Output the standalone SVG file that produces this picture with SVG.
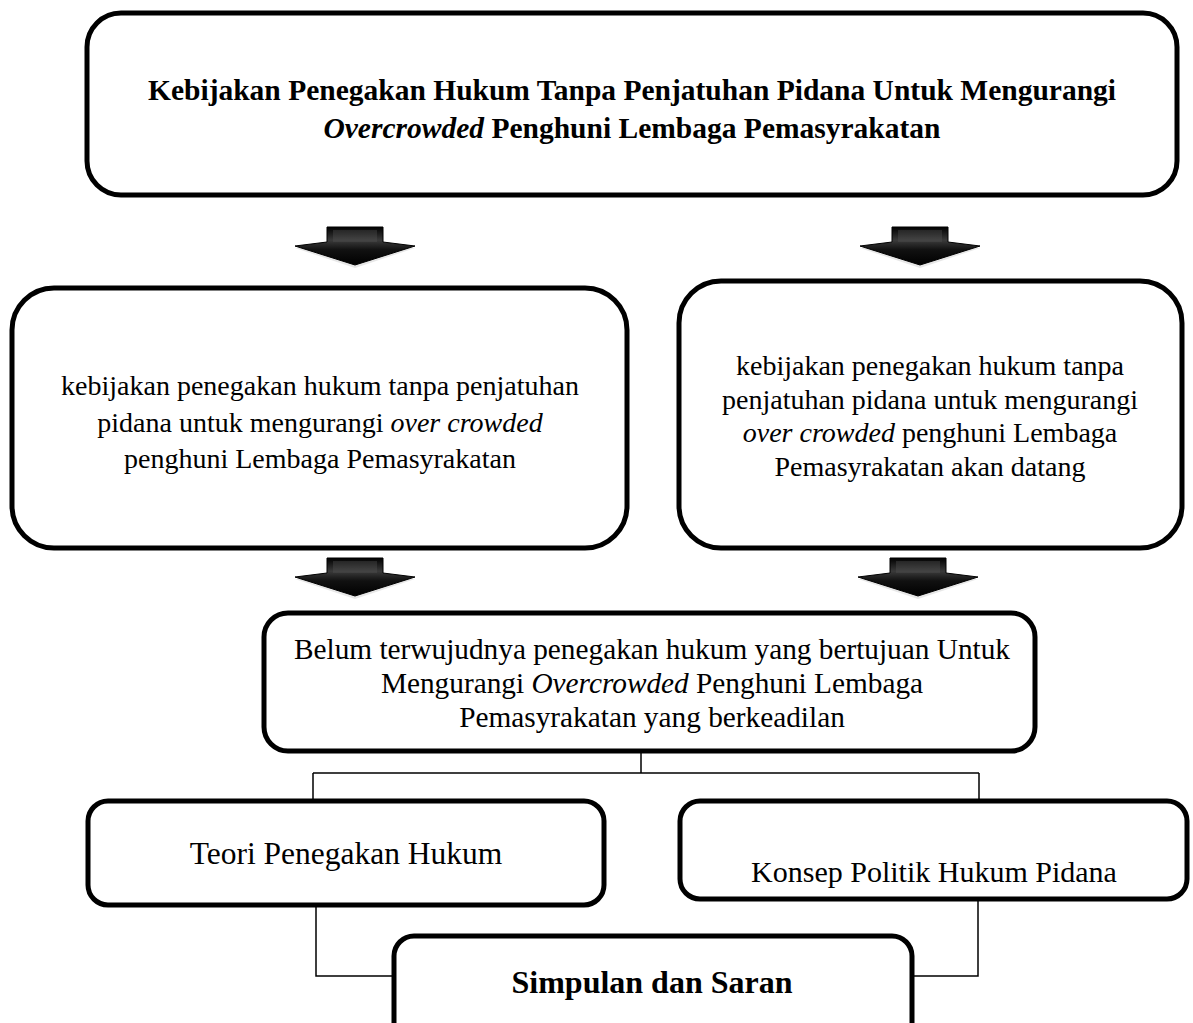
<svg xmlns="http://www.w3.org/2000/svg" width="1193" height="1023" viewBox="0 0 1193 1023">
<style>
.box{fill:#fff;stroke:#000;stroke-width:5}
.conn{fill:none;stroke:#000;stroke-width:1.5}
text{font-family:"Liberation Serif","Times New Roman",serif;fill:#000;text-anchor:middle}
.t28{font-size:28px}
.b{font-weight:bold}
.i{font-style:italic}
</style>
<defs>
<linearGradient id="ag" x1="0" y1="0" x2="0" y2="1">
<stop offset="0" stop-color="#000"/>
<stop offset="0.35" stop-color="#3a3a3a"/>
<stop offset="0.6" stop-color="#111"/>
<stop offset="1" stop-color="#000"/>
</linearGradient>
<g id="arrow">
<path d="M-60,21 L0,41 L60,21 Z" fill="#bbb" opacity="0.35"/>
<path d="M-28,0 L28,0 L28,15 L60,19 L0,38 L-60,19 L-28,15 Z" fill="url(#ag)" stroke="#000" stroke-width="1"/>
<path d="M-22,3 L22,3 L22,15 L-22,15 Z" fill="#555" opacity="0.35"/>
</g>
</defs>

<g id="top">
<rect class="box" x="87" y="13" width="1090" height="182" rx="34"/>
<text class="b" x="632" y="100" font-size="29.5">Kebijakan Penegakan Hukum Tanpa Penjatuhan Pidana Untuk Mengurangi</text>
<text class="b" x="632" y="138" font-size="29.5"><tspan class="i">Overcrowded</tspan> Penghuni Lembaga Pemasyrakatan</text>
</g>

<g id="arrows">
<use href="#arrow" transform="translate(355,227)"/>
<use href="#arrow" transform="translate(920,227)"/>
<use href="#arrow" transform="translate(355,558)"/>
<use href="#arrow" transform="translate(918,558)"/>
</g>

<g id="left">
<rect class="box" x="12" y="288" width="615" height="260" rx="42"/>
<text class="t28" x="320" y="395">kebijakan penegakan hukum tanpa penjatuhan</text>
<text class="t28" x="320" y="432">pidana untuk mengurangi <tspan class="i">over crowded</tspan></text>
<text class="t28" x="320" y="468">penghuni Lembaga Pemasyrakatan</text>
</g>

<g id="right">
<rect class="box" x="679" y="281" width="503" height="267" rx="42"/>
<text class="t28" x="930" y="375">kebijakan penegakan hukum tanpa</text>
<text class="t28" x="930" y="409">penjatuhan pidana untuk mengurangi</text>
<text class="t28" x="930" y="442"><tspan class="i">over crowded</tspan> penghuni Lembaga</text>
<text class="t28" x="930" y="476">Pemasyrakatan akan datang</text>
</g>

<g id="middle">
<rect class="box" x="264" y="613" width="771" height="138" rx="24"/>
<text font-size="29.3" x="652" y="659">Belum terwujudnya penegakan hukum yang bertujuan Untuk</text>
<text font-size="29.3" x="652" y="693">Mengurangi <tspan class="i">Overcrowded</tspan> Penghuni Lembaga</text>
<text font-size="29.3" x="652" y="727">Pemasyrakatan yang berkeadilan</text>
</g>

<g id="teori">
<rect class="box" x="88" y="801" width="516" height="104" rx="20"/>
<text font-size="31.5" x="346" y="864">Teori Penegakan Hukum</text>
</g>

<g id="konsep">
<rect class="box" x="680" y="801" width="507" height="98" rx="20"/>
<text font-size="30" x="934" y="882">Konsep Politik Hukum Pidana</text>
</g>

<g id="simpulan">
<rect class="box" x="394" y="936" width="518" height="110" rx="20"/>
<text class="b" font-size="32" x="652" y="993">Simpulan dan Saran</text>
</g>

<g id="connectors">
<path class="conn" d="M641,752 V773 M313,773 H979 M313,773 V801 M979,773 V801"/>
<path class="conn" d="M316,905 V976 H394"/>
<path class="conn" d="M978,899 V976 H912"/>
</g>
</svg>
